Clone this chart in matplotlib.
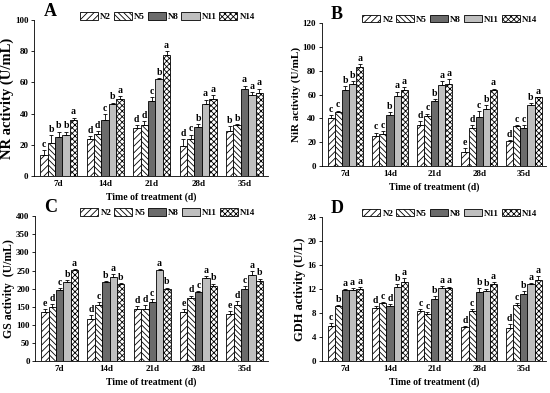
import numpy as np
import matplotlib.pyplot as plt

plt.rcParams['font.family'] = ['Liberation Serif', 'DejaVu Serif']
plt.rcParams['font.weight'] = 'bold'
plt.rcParams['hatch.linewidth'] = 0.6

days = ['7d', '14d', '21d', '28d', '35d']
treatments = ['N2', 'N5', 'N8', 'N11', 'N14']

# values: rows = days, cols = treatments
nr_mean = [[13.5, 21, 25, 26, 36],
           [24, 27, 36, 46, 49.5],
           [30.5, 33, 48, 62.5, 77.5],
           [19.5, 24, 31.5, 46.5, 49.5],
           [29, 33, 56, 52, 53.5]]
nr_err = [[3, 5, 3.5, 2.5, 1.5],
          [1.5, 2, 3.5, 1, 1.5],
          [2, 2, 2.5, 0.3, 2.5],
          [4, 2.5, 2, 2.5, 2.5],
          [3, 0.5, 2, 2, 2.5]]
nr_sig = [['c', 'b', 'b', 'b', 'a'],
          ['d', 'd', 'c', 'b', 'a'],
          ['d', 'd', 'c', 'b', 'a'],
          ['d', 'c', 'b', 'a', 'a'],
          ['b', 'b', 'a', 'a', 'a']]

nir_mean = [[40, 45, 64, 68.5, 83],
            [25, 27, 43, 58.5, 63.5],
            [34, 42, 54.5, 68, 69],
            [12, 31.5, 41, 48, 63.5],
            [21, 33.5, 32, 51, 57.5]]
nir_err = [[3, 1.5, 3, 3, 2.5],
           [3, 2, 2, 4, 2.5],
           [4, 2, 2, 3, 4],
           [3, 3, 5, 3, 1.5],
           [1, 1, 2, 2, 0.5]]
nir_sig = [['c', 'c', 'b', 'b', 'a'],
           ['c', 'c', 'b', 'a', 'a'],
           ['d', 'c', 'b', 'a', 'a'],
           ['e', 'd', 'c', 'b', 'a'],
           ['d', 'c', 'c', 'b', 'a']]

gs_mean = [[135, 150, 197, 218, 251],
           [117, 155, 218, 232, 213],
           [145, 145, 163, 252, 200],
           [136, 173, 190, 230, 208],
           [130, 155, 200, 237, 220]]
gs_err = [[8, 7, 5, 5, 4],
          [10, 7, 3, 8, 3],
          [6, 10, 8, 3, 3],
          [7, 8, 4, 5, 6],
          [8, 10, 7, 12, 8]]
gs_sig = [['e', 'd', 'c', 'b', 'a'],
          ['d', 'c', 'b', 'a', 'b'],
          ['d', 'd', 'c', 'a', 'b'],
          ['e', 'd', 'c', 'a', 'b'],
          ['e', 'd', 'c', 'a', 'b']]

gdh_mean = [[5.9, 9.2, 11.8, 11.8, 12.0],
            [8.8, 9.7, 9.1, 12.3, 13.2],
            [8.3, 7.8, 10.3, 12.2, 12.1],
            [5.7, 8.4, 11.5, 11.6, 12.9],
            [5.6, 9.3, 11.1, 12.8, 13.5]]
gdh_err = [[0.4, 0.2, 0.2, 0.4, 0.3],
           [0.4, 0.2, 0.4, 0.5, 0.6],
           [0.3, 0.3, 0.5, 0.3, 0.3],
           [0.2, 0.3, 0.6, 0.4, 0.3],
           [0.6, 0.4, 0.5, 0.2, 0.7]]
gdh_sig = [['c', 'b', 'a', 'a', 'a'],
           ['d', 'c', 'd', 'b', 'a'],
           ['c', 'c', 'b', 'a', 'a'],
           ['d', 'c', 'b', 'b', 'a'],
           ['d', 'c', 'b', 'a', 'a']]

# bar styles per treatment
faces = ['white', 'white', '#6b6b6b', '#bfbfbf', 'white']
hatches = ['/////', '\\\\\\\\\\\\', None, None, 'xxxxxx']

panels = [
    ('A', nr_mean, nr_err, nr_sig, 'NR activity (U/mL)', 100, 20, 10.5,
     [0.062, 0.552, 0.425, 0.397]),
    ('B', nir_mean, nir_err, nir_sig, 'NiR activity (U/mL)', 120, 20, 8,
     [0.585, 0.578, 0.408, 0.363]),
    ('C', gs_mean, gs_err, gs_sig, 'GS activity  (U/mL)', 400, 50, 8.5,
     [0.064, 0.081, 0.423, 0.369]),
    ('D', gdh_mean, gdh_err, gdh_sig, 'GDH activity (U/L)', 24, 4, 9,
     [0.585, 0.081, 0.408, 0.367]),
]

fig = plt.figure(figsize=(5.5, 3.93), dpi=100)
x = np.arange(len(days))
w = 0.16

for tag, mean, err, sig, ylab, ymax, ystep, ylab_size, pos in panels:
    ax = fig.add_axes(pos)
    mean = np.array(mean)
    err = np.array(err)
    for j, name in enumerate(treatments):
        xs = x + (j - 2) * w
        ax.bar(xs, mean[:, j], w, color=faces[j], edgecolor='black',
               linewidth=0.6, hatch=hatches[j], label=name)
        ax.errorbar(xs, mean[:, j], yerr=[np.zeros(len(days)), err[:, j]],
                    fmt='none', ecolor='black', elinewidth=0.6, capsize=1.5,
                    capthick=0.6)
        for i in range(len(days)):
            ax.text(xs[i], mean[i, j] + err[i, j] + ymax * 0.008, sig[i][j],
                    ha='center', va='bottom', fontsize=7, fontweight='bold')
    ax.set_xlim(-0.53, 4.5)
    ax.set_ylim(0, ymax)
    ax.set_yticks(np.arange(0, ymax + ystep / 2, ystep))
    ax.set_xticks(x)
    ax.set_xticklabels(days)
    ax.spines['top'].set_visible(False)
    ax.spines['right'].set_visible(False)
    ax.tick_params(axis='both', labelsize=6.5, width=0.6, length=2.5, pad=1.5)
    ax.tick_params(axis='x', length=0, pad=3)
    for s in ['left', 'bottom']:
        ax.spines[s].set_linewidth(0.6)
    ax.set_ylabel(ylab, fontsize=ylab_size, fontweight='bold', labelpad=1)
    ax.set_xlabel('Time of treatment (d)', fontsize=7, fontweight='bold',
                  labelpad=3)
    ax.text(0.04, 1.0, tag, transform=ax.transAxes, fontsize=13,
            fontweight='bold', va='bottom')
    ax.legend(ncol=5, loc='lower center', bbox_to_anchor=(0.57, 0.97),
              frameon=False, fontsize=6.5, handlelength=2.0, handleheight=0.9,
              columnspacing=0.3, handletextpad=0.25, borderaxespad=0)

fig.savefig('out.png', dpi=100)
